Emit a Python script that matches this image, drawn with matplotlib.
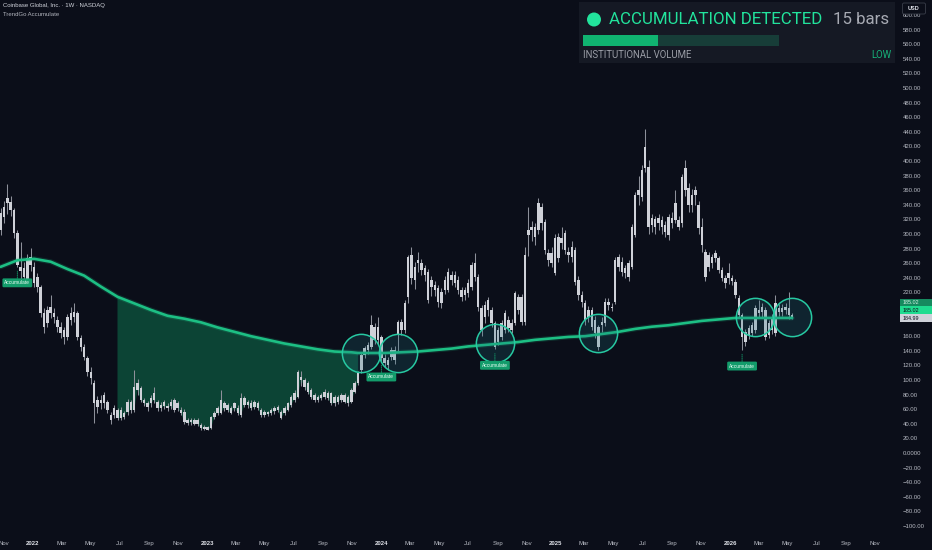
import numpy as np
import matplotlib
matplotlib.use("Agg")
import matplotlib.pyplot as plt
from matplotlib.patches import Rectangle, Circle, FancyBboxPatch

# ---------------- data (weekly candles, COIN 1W, week 0 = 2021-10-25) ----------------
start_date = "2021-10-25"

lo_a = [305,323,342,333,301,258,250,241,237,258,233,227,192,173,178,192,186,173,164,159,159,182,186,159,145,132,111,103,68,63,68,68,59,45,52,48,48,50,56,59,59,86,73,68,63,68,73,62,62,64,62]
hi_a = [329,337,349,344,333,301,255,253,267,268,255,241,227,192,196,200,192,182,173,168,186,192,193,192,158,145,130,111,96,73,72,79,70,52,62,59,59,55,70,70,90,96,89,73,68,76,82,70,66,70,65]
wl_a = [298,315,328,325,295,255,238,235,232,250,228,220,186,164,172,185,178,166,158,150,155,176,180,155,140,128,105,95,41,55,60,62,55,40,48,45,45,46,52,55,56,80,70,64,58,63,68,58,58,60,58]
wh_a = [336,345,368,352,336,306,289,262,272,281,262,246,230,198,202,216,198,188,180,172,190,200,205,195,162,150,133,118,100,78,80,84,73,56,66,62,63,58,74,73,114,101,92,76,71,80,90,73,70,73,68]

lo_b = [64,59,62,55,42,41,42,40,40,34,33,32,34,49,55,55,62,59,55,62,55,52,66,66,62,63,62,52,52,53,55,57,59,48,55,59,66,73,77,100,90,84,77,73,73,75,77,75,68,68,70,73,70,68,70,84,96]
hi_b = [70,73,68,59,56,45,45,45,45,38,36,35,49,55,62,73,68,66,62,68,62,75,75,70,68,70,68,59,56,56,59,62,63,56,62,68,77,82,111,104,100,96,86,79,77,79,84,82,82,77,77,79,79,77,86,96,110]
wl_b = [60,56,58,52,40,38,39,38,37,32,31,31,33,46,52,54,58,56,53,58,52,50,63,62,59,60,59,50,50,51,52,54,56,46,52,57,63,70,75,92,86,81,74,70,70,72,74,72,66,65,67,70,68,65,68,82,93]
wh_b = [74,76,71,63,60,48,48,48,48,41,38,37,51,58,64,86,71,69,65,70,66,82,78,73,72,73,71,62,59,58,61,64,66,59,64,70,80,86,114,112,103,99,89,82,80,82,87,85,84,80,80,82,82,80,89,99,113]

lo_c = [114,134,141,145,155,155,130,123,120,132,127,162,168,168,214,240,237,260,251,244,210,227,223,207,205,223,223,237,233,223,214,216,219,227,241,200,168,186,196,178,145,152,159,168,171,168,178,196,179]
hi_c = [134,144,148,175,173,173,159,130,127,141,141,179,179,205,268,271,255,264,260,253,248,237,230,226,221,237,248,244,244,237,223,223,233,258,260,241,199,203,210,196,178,168,178,192,182,178,219,214,214]
wl_c = [110,130,136,142,150,150,126,118,114,128,122,140,162,165,205,232,225,248,244,235,205,215,215,200,198,218,220,230,228,218,208,210,214,223,236,195,160,178,188,172,142,148,155,164,166,164,175,190,176]
wh_c = [137,147,152,189,178,186,162,135,132,145,146,182,184,209,271,282,262,275,266,258,252,243,236,230,226,242,253,250,250,242,228,228,238,262,274,245,203,208,214,200,181,172,182,196,187,183,222,218,218]

lo_d = [179,299,305,296,305,315,278,264,260,247,267,288,278,271,268,234,216,207,182,186,173,164,145,175,178,203,199,207,255,248,247,241,255,299,353,351,390,310,312,310,315,310,303,299,315,319,310,315,360,340,340,353,308,285]
hi_d = [271,305,310,310,342,337,316,274,274,294,296,294,301,275,282,278,237,216,205,196,196,182,173,179,207,207,200,264,268,262,253,260,310,353,360,388,419,392,322,320,322,319,312,323,322,342,319,378,390,363,353,360,340,310]
wl_d = [176,270,290,285,300,305,272,256,255,244,262,280,272,262,262,230,210,200,176,180,168,158,141,166,174,196,195,204,250,242,240,236,252,296,340,345,385,300,303,300,305,300,296,292,308,315,305,310,352,330,330,340,300,276]
wh_d = [282,337,318,315,349,343,320,280,282,300,302,310,306,282,290,282,242,222,210,202,200,188,176,186,212,213,206,268,272,268,258,264,314,358,380,395,444,402,328,325,328,325,318,328,330,360,325,382,401,370,362,366,345,322]

lo_e = [241,255,260,267,251,240,233,240,236,216,189,159,152,162,164,168,192,193,159,162,168,164,193,193,196,189,185]
hi_e = [275,271,268,274,267,251,240,247,240,234,212,189,166,171,175,199,196,200,196,178,185,205,199,199,200,199,189]
wl_e = [236,250,254,262,246,235,226,232,230,212,185,141,146,156,160,165,186,186,155,158,163,160,188,188,190,184,183]
wh_e = [280,276,272,278,270,255,244,260,244,238,216,192,170,176,180,203,210,205,200,182,190,216,204,204,205,220,192]

body_lo = np.array(lo_a + lo_b + lo_c + lo_d + lo_e, dtype=float)
body_hi = np.array(hi_a + hi_b + hi_c + hi_d + hi_e, dtype=float)
wick_lo = np.array(wl_a + wl_b + wl_c + wl_d + wl_e, dtype=float)
wick_hi = np.array(wh_a + wh_b + wh_c + wh_d + wh_e, dtype=float)
n = min(len(body_lo), len(body_hi), len(wick_lo), len(wick_hi))
weeks = np.arange(n)

# long moving average (read at anchor weeks)
ma_weeks = [0,5,10,15,20,25,30,35,40,45,50,55,60,65,70,75,80,85,90,95,100,105,107,
            110,115,120,125,130,135,140,145,150,155,160,165,170,175,180,185,190,195,200,205,210,215,220,225,230,237]
ma_values = [255,264,266,262,252,243,228,214,205,196,188,184,179,172,166,160,155,150,146,142,139,138,137,
             137,137,138,139,141,143,146,148,150,152,155,157,159,160,163,166,170,173,175,178,181,183,185,185,185,185]

# accumulation zone fill (below MA)
fill_start, fill_end = 35, 107

# accumulation circles (week, price)
circle_weeks = [108, 119, 148, 179, 226, 237]
circle_prices = [137, 137, 151, 165, 186, 186]

# "Accumulate" labels under these bars
label_weeks = [5, 114, 148, 222]

# x-axis ticks
tick_dates = ["2021-11-01","2022-01-01","2022-03-01","2022-05-01","2022-07-01","2022-09-01","2022-11-01",
              "2023-01-01","2023-03-01","2023-05-01","2023-07-01","2023-09-01","2023-11-01",
              "2024-01-01","2024-03-01","2024-05-01","2024-07-01","2024-09-01","2024-11-01",
              "2025-01-01","2025-03-01","2025-05-01","2025-07-01","2025-09-01","2025-11-01",
              "2026-01-01","2026-03-01","2026-05-01","2026-07-01","2026-09-01","2026-11-01"]
tick_labels = ["Nov","2022","Mar","May","Jul","Sep","Nov","2023","Mar","May","Jul","Sep","Nov",
               "2024","Mar","May","Jul","Sep","Nov","2025","Mar","May","Jul","Sep","Nov",
               "2026","Mar","May","Jul","Sep","Nov"]

price_ticks = list(range(-100, 601, 20))
price_tags = [185.02, 185.02, 184.99]

title = "Coinbase Global, Inc. · 1W · NASDAQ"
subtitle = "TrendGo Accumulate"
panel_title = "ACCUMULATION DETECTED"
panel_bars = "15 bars"
panel_volume = "INSTITUTIONAL VOLUME"
panel_level = "LOW"
progress_frac = 0.385

# ---------------- style ----------------
BG = "#0b0e19"
CANDLE = "#cfd1d8"
WICK = "#8d909a"
MA_COL = "#1dbf84"
FILL_COL = "#0c4435"
CIRC_EDGE = "#27c9a2"
LABEL_BG = "#139c6b"
AXIS_TXT = "#b8bbc4"
FONT = ["Liberation Sans", "DejaVu Sans"]
plt.rcParams["font.family"] = FONT

W, H = 932, 550
fig = plt.figure(figsize=(W / 100, H / 100), dpi=100, facecolor=BG)
ax_left, ax_right, ax_top, ax_bot = 0, 898, 0, 535
ax = fig.add_axes([ax_left / W, (H - ax_bot) / H, (ax_right - ax_left) / W, (ax_bot - ax_top) / H])
ax.set_facecolor(BG)

px_per_week = 3.34
x0_week = -0.6 / px_per_week
ax.set_xlim(x0_week, x0_week + (ax_right - ax_left) / px_per_week)
ax.set_ylim((453 - ax_bot) / 0.73, (453 - ax_top) / 0.73)

for s in ax.spines.values():
    s.set_visible(False)

# fill zone
top = [(w, v) for w, v in zip(ma_weeks, ma_values) if fill_start <= w <= fill_end]
bottom = [(w, body_lo[w]) for w in range(fill_end, fill_start - 1, -1)]
poly = np.array(top + bottom)
ax.fill(poly[:, 0], poly[:, 1], color=FILL_COL, lw=0, zorder=1)

# candles
ax.vlines(weeks, wick_lo[:n], wick_hi[:n], color=WICK, lw=0.75, zorder=3)
heights = np.maximum(body_hi[:n] - body_lo[:n], 1.2)
ax.bar(weeks, heights, bottom=body_lo[:n], width=0.74, color=CANDLE, lw=0, zorder=4)

# moving average
ax.plot(ma_weeks, ma_values, color=MA_COL, lw=3.6, alpha=0.18, zorder=5, solid_capstyle="round")
ax.plot(ma_weeks, ma_values, color=MA_COL, lw=1.9, zorder=6, solid_capstyle="round",
        solid_joinstyle="round")

# circles
ax.scatter(circle_weeks, circle_prices, s=760, facecolors=(0.12, 0.45, 0.5, 0.22),
           edgecolors=CIRC_EDGE, linewidths=1.1, zorder=7)

# accumulate labels
for w in label_weeks:
    ax.annotate("Accumulate", xy=(w, wick_lo[w]), xytext=(0, -11.5), textcoords="offset points",
                ha="center", va="center", fontsize=3.5, color="#e6fbf2", zorder=8,
                bbox=dict(boxstyle="round,pad=0.4,rounding_size=0.25", fc=LABEL_BG, ec="none"),
                arrowprops=dict(arrowstyle="-", color=LABEL_BG, lw=0.6, linestyle=(0, (1.5, 1.2)),
                                shrinkA=0, shrinkB=3))

# y axis on right
def fmt_price(v):
    if v == 0:
        return "0.0000"
    s = f"{abs(v):.2f}"
    return ("\u2212" + s) if v < 0 else s

# tick labels covered by the stacked price tags are not shown (as in the reference)
px_per_price = 0.73
tag_stack_px = 7.8 * len(price_tags)
tag_top_price = price_tags[-1] + (tag_stack_px - 3.9) / px_per_price
tag_bot_price = price_tags[-1] - 3.9 / px_per_price
ytick_text = []
for v in price_ticks:
    hidden = (tag_bot_price - 6) <= v <= (tag_top_price + 6)
    ytick_text.append("" if hidden else fmt_price(v))

ax.yaxis.tick_right()
ax.set_yticks(price_ticks)
ax.set_yticklabels(ytick_text)
ax.tick_params(axis="y", length=0, pad=3.6, labelsize=4.3, labelcolor=AXIS_TXT)

# x axis
t0 = np.datetime64(start_date)
tick_pos = [(np.datetime64(d) - t0).astype(int) / 7.0 for d in tick_dates]
ax.set_xticks(tick_pos)
ax.set_xticklabels(tick_labels)
ax.tick_params(axis="x", length=0, pad=4.6, labelsize=4.3, labelcolor=AXIS_TXT)
for lab in ax.get_xticklabels():
    if lab.get_text().isdigit():
        lab.set_fontweight("bold")
        lab.set_color("#e1e3ea")

# ---------------- overlay (pixel coordinates) ----------------
ov = fig.add_axes([0, 0, 1, 1], zorder=10)
ov.set_xlim(0, W)
ov.set_ylim(H, 0)
ov.axis("off")
ov.patch.set_alpha(0)

ov.text(3, 5.5, title, fontsize=4.3, color="#d1d4dc", va="center", ha="left")
ov.text(3, 15, subtitle, fontsize=4.3, color="#b2b5be", va="center", ha="left")

# panel
ov.add_patch(Rectangle((579, 2), 316, 61, fc="#151924", ec="none"))
ov.add_patch(Circle((594, 19.5), 7, fc="#22e39c", ec="none"))
ov.text(609, 20, panel_title, fontsize=12.2, color="#22e39c", va="center", ha="left", family=["Roboto", "DejaVu Sans"])
ov.text(889, 20, panel_bars, fontsize=12.2, color="#a7aab3", va="center", ha="right", family=["Roboto", "DejaVu Sans"])
bar_x0, bar_x1 = 583, 779
ov.add_patch(Rectangle((bar_x0, 34.5), bar_x1 - bar_x0, 11, fc="#173d38", ec="none", lw=0))
ov.add_patch(Rectangle((bar_x0, 34.5), (bar_x1 - bar_x0) * progress_frac, 11, fc="#10b371", ec="none"))
ov.text(583, 55.5, panel_volume, fontsize=6.9, color="#9a9da6", va="center", ha="left", family=["Roboto", "DejaVu Sans"])
ov.text(891, 55.5, panel_level, fontsize=6.9, color="#16b27a", va="center", ha="right", family=["Roboto", "DejaVu Sans"])

# USD box
ov.add_patch(FancyBboxPatch((902.5, 3), 23, 11, boxstyle="round,pad=0,rounding_size=1.5",
                            fc=BG, ec="#3a3e4a", lw=0.6))
ov.text(914, 8.6, "USD", fontsize=4, color="#e1e3ea", va="center", ha="center", fontweight="bold")

# price tags on right axis (stacked upward from value position)
fig.canvas.draw()
base_y = H - ax.transData.transform((0, price_tags[-1]))[1]
tag_cols = [("#168a5f", "#d7efe5"), ("#1fdc90", "#0b0e19"), ("#cfd2da", "#0b0e19")]
for k, (val, (fc, tc)) in enumerate(zip(price_tags, tag_cols)):
    yc = base_y - (len(price_tags) - 1 - k) * 7.8
    ov.add_patch(Rectangle((900, yc - 3.7), 32, 7.4, fc=fc, ec="none"))
    ov.text(903, yc + 0.2, f"{val:.2f}", fontsize=3.9, color=tc, va="center", ha="left")

fig.savefig("out.png", dpi=100, facecolor=BG)
